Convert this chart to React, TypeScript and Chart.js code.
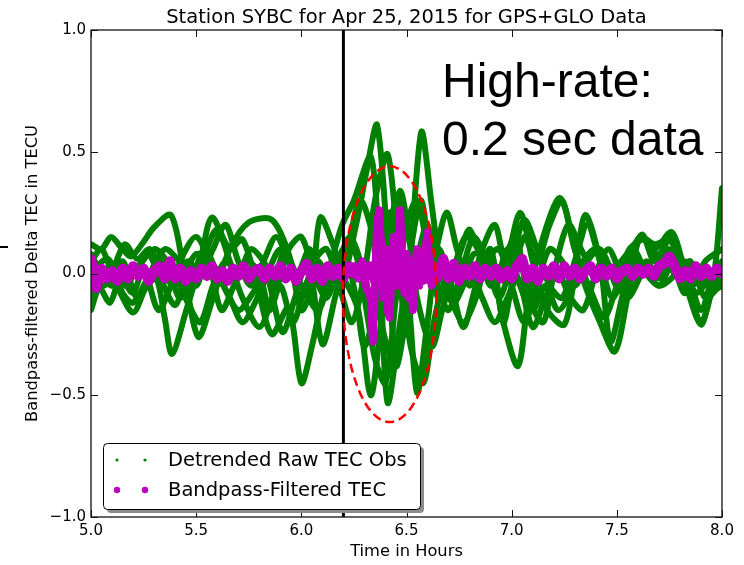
import React, { useEffect, useRef } from 'react';
import { Chart, registerables } from 'chart.js';
Chart.register(...registerables);

const X_MIN = 5.0;
const X_MAX = 8.0;
const Y_MIN = -1.0;
const Y_MAX = 1.0;
const xTicks = [5.0, 5.5, 6.0, 6.5, 7.0, 7.5, 8.0];
const yTicks = [-1.0, -0.5, 0.0, 0.5, 1.0];
const eventTime = 6.2;
const ellipseCenter = [6.42, -0.085];
const ellipseRadii = [0.222, 0.525];

const titleText = 'Station SYBC for Apr 25, 2015 for GPS+GLO Data';
const xLabel = 'Time in Hours';
const yLabel = 'Bandpass-filtered Delta TEC in TECU';
const noteLines = ['High-rate:', '0.2 sec data'];
const legendLabels = ['Detrended Raw TEC Obs', 'Bandpass-Filtered TEC'];

const GREEN = '#008000';
const MAGENTA = '#BF00BF';

const g1: number[][] = [[5.00,0.12],[5.05,0.10],[5.095,0.15],[5.15,0.10],[5.19,0.07],[5.25,0.13],[5.30,0.19],[5.38,0.24],[5.44,0.02],[5.51,-0.26],[5.58,-0.10],[5.66,0.10],[5.75,0.21],[5.86,0.22],[5.94,0.08],[6.00,-0.15],[6.05,-0.05],[6.09,0.23],[6.15,0.12],[6.20,0.00],[6.26,0.20],[6.31,0.42],[6.36,0.61],[6.41,0.12],[6.45,-0.38],[6.50,-0.15],[6.57,0.58],[6.62,0.28],[6.67,-0.02],[6.72,-0.12],[6.77,-0.05],[6.82,0.08],[6.90,0.05],[6.96,-0.20],[7.03,-0.38],[7.08,-0.10],[7.15,0.15],[7.23,0.31],[7.30,0.10],[7.35,-0.05],[7.42,-0.20],[7.49,-0.32],[7.55,-0.10],[7.61,0.15],[7.68,0.10],[7.76,0.17],[7.82,0.02],[7.90,-0.20],[7.96,-0.02],[8.00,0.35]];
const g2: number[][] = [[5.00,-0.10],[5.06,0.02],[5.12,-0.05],[5.20,-0.16],[5.26,-0.06],[5.31,-0.02],[5.35,-0.18],[5.385,-0.33],[5.45,-0.16],[5.52,0.05],[5.575,0.23],[5.66,0.10],[5.72,0.14],[5.79,-0.05],[5.86,-0.25],[5.94,-0.14],[6.00,-0.45],[6.05,-0.30],[6.10,-0.10],[6.19,0.19],[6.25,0.30],[6.33,0.48],[6.37,0.10],[6.41,-0.53],[6.47,-0.20],[6.52,0.10],[6.57,0.30],[6.62,0.05],[6.69,0.25],[6.74,0.10],[6.80,-0.05],[6.86,0.10],[6.92,0.20],[6.97,0.05],[7.04,0.25],[7.10,0.05],[7.17,-0.15],[7.25,-0.21],[7.30,0.00],[7.35,0.24],[7.42,0.05],[7.47,-0.28],[7.54,-0.05],[7.60,0.05],[7.70,-0.05],[7.77,0.05],[7.84,-0.02],[7.90,-0.15],[7.96,0.00],[8.00,0.05]];
const g3: number[][] = [[5.00,0.02],[5.06,-0.05],[5.13,0.03],[5.20,0.00],[5.27,0.08],[5.33,-0.02],[5.40,-0.13],[5.45,0.00],[5.50,0.08],[5.57,0.05],[5.63,-0.05],[5.70,-0.15],[5.77,-0.08],[5.83,0.00],[5.91,-0.24],[5.97,-0.10],[6.03,0.06],[6.10,-0.29],[6.16,-0.10],[6.22,0.10],[6.28,0.30],[6.34,0.15],[6.38,-0.20],[6.45,-0.38],[6.50,-0.05],[6.55,-0.49],[6.60,-0.20],[6.65,0.10],[6.70,0.00],[6.77,-0.22],[6.83,-0.05],[6.90,0.10],[6.96,-0.20],[7.00,-0.05],[7.06,0.15],[7.12,0.05],[7.18,0.20],[7.24,0.30],[7.30,0.10],[7.38,-0.08],[7.44,-0.18],[7.50,-0.05],[7.56,0.10],[7.64,0.14],[7.70,0.05],[7.75,0.10],[7.82,0.00],[7.88,-0.08],[7.94,-0.02],[8.00,0.00]];
const g4: number[][] = [[5.00,0.08],[5.05,0.00],[5.10,-0.05],[5.15,0.05],[5.22,-0.10],[5.28,0.00],[5.35,0.10],[5.42,0.05],[5.50,-0.05],[5.55,0.10],[5.60,0.18],[5.66,0.05],[5.72,-0.10],[5.80,-0.22],[5.86,-0.10],[5.92,0.10],[5.98,0.00],[6.04,0.10],[6.10,-0.05],[6.15,0.02],[6.20,-0.02],[6.27,-0.15],[6.33,-0.50],[6.38,-0.20],[6.43,0.10],[6.47,0.34],[6.52,0.10],[6.55,-0.10],[6.62,-0.30],[6.67,-0.15],[6.72,0.00],[6.78,0.15],[6.84,0.10],[6.90,-0.05],[6.96,0.05],[7.02,0.15],[7.08,-0.10],[7.15,-0.20],[7.20,0.00],[7.27,0.20],[7.33,0.10],[7.40,0.00],[7.45,0.05],[7.50,-0.05],[7.56,0.05],[7.62,0.16],[7.68,0.05],[7.76,0.15],[7.83,-0.05],[7.90,-0.21],[7.95,-0.08],[8.00,-0.05]];
const g5: number[][] = [[5.00,-0.15],[5.04,-0.06],[5.09,-0.12],[5.14,-0.02],[5.20,-0.08],[5.25,0.02],[5.32,-0.15],[5.38,-0.05],[5.44,0.08],[5.50,0.15],[5.56,0.05],[5.62,-0.15],[5.68,-0.05],[5.74,0.05],[5.80,0.00],[5.85,-0.15],[5.90,-0.05],[5.96,-0.20],[6.02,-0.05],[6.08,0.05],[6.14,-0.05],[6.20,0.10],[6.26,-0.10],[6.30,-0.30],[6.36,-0.10],[6.42,0.25],[6.47,0.05],[6.52,-0.30],[6.58,-0.45],[6.63,-0.20],[6.68,-0.05],[6.73,-0.12],[6.80,0.02],[6.86,-0.10],[6.92,-0.20],[6.98,-0.10],[7.03,-0.02],[7.10,-0.22],[7.16,-0.10],[7.22,0.00],[7.28,-0.10],[7.34,-0.15],[7.40,0.00],[7.46,0.10],[7.52,0.00],[7.58,-0.05],[7.64,0.05],[7.70,-0.02],[7.76,0.05],[7.82,-0.08],[7.88,-0.02],[7.95,-0.05],[8.00,-0.02]];
const g6: number[][] = [[5.00,0.00],[5.08,0.06],[5.15,-0.08],[5.20,-0.12],[5.27,-0.02],[5.33,0.05],[5.40,0.00],[5.46,-0.12],[5.52,-0.20],[5.58,-0.05],[5.64,0.05],[5.70,0.00],[5.76,0.10],[5.82,0.05],[5.88,-0.05],[5.94,0.10],[6.00,0.15],[6.06,0.00],[6.12,-0.10],[6.18,0.05],[6.23,0.15],[6.28,0.05],[6.34,-0.20],[6.40,0.05],[6.45,0.30],[6.50,0.20],[6.55,0.00],[6.60,0.15],[6.66,0.05],[6.71,-0.10],[6.77,-0.20],[6.83,-0.10],[6.88,0.05],[6.94,0.10],[7.00,-0.05],[7.06,-0.20],[7.12,-0.05],[7.18,0.10],[7.24,0.05],[7.30,-0.05],[7.36,0.05],[7.42,0.10],[7.48,0.00],[7.55,-0.10],[7.62,0.00],[7.70,0.08],[7.78,0.00],[7.85,0.05],[7.92,-0.10],[8.00,-0.04]];
const g7: number[][] = [[5.00,0.05],[5.05,0.10],[5.10,0.02],[5.16,0.12],[5.22,0.06],[5.28,0.10],[5.34,0.00],[5.40,-0.05],[5.46,0.05],[5.52,0.00],[5.58,0.10],[5.64,0.20],[5.70,0.05],[5.76,-0.05],[5.82,0.05],[5.88,0.15],[5.94,0.05],[6.00,-0.10],[6.06,0.05],[6.12,0.10],[6.18,-0.05],[6.24,-0.20],[6.30,0.00],[6.35,0.30],[6.41,0.49],[6.46,0.10],[6.50,-0.25],[6.55,0.05],[6.60,0.20],[6.65,-0.05],[6.70,-0.15],[6.76,0.00],[6.82,0.15],[6.88,0.05],[6.94,-0.10],[7.00,0.05],[7.06,0.22],[7.12,0.10],[7.18,-0.05],[7.24,-0.10],[7.30,0.05],[7.36,0.20],[7.42,0.05],[7.48,-0.10],[7.55,0.05],[7.61,0.15],[7.68,0.12],[7.75,0.14],[7.80,0.05],[7.86,-0.05],[7.92,0.05],[8.00,0.10]];
const g8: number[][] = [[5.00,-0.08],[5.05,-0.02],[5.10,0.04],[5.16,-0.05],[5.22,0.02],[5.30,0.10],[5.36,0.05],[5.42,-0.10],[5.48,-0.02],[5.54,0.10],[5.60,0.00],[5.66,-0.10],[5.72,-0.20],[5.78,-0.12],[5.84,0.00],[5.90,0.10],[5.96,0.02],[6.02,-0.08],[6.08,-0.15],[6.14,-0.02],[6.20,0.05],[6.25,0.10],[6.30,-0.10],[6.35,-0.35],[6.40,-0.45],[6.45,-0.10],[6.50,0.20],[6.55,0.30],[6.60,0.10],[6.65,-0.10],[6.70,-0.05],[6.76,0.10],[6.80,0.18],[6.86,0.05],[6.92,-0.05],[6.98,0.10],[7.04,-0.05],[7.10,-0.15],[7.16,-0.05],[7.22,-0.15],[7.28,-0.08],[7.34,0.05],[7.40,0.10],[7.46,0.00],[7.52,0.05],[7.58,0.10],[7.64,0.00],[7.70,-0.05],[7.76,-0.02],[7.82,0.05],[7.88,0.00],[7.94,-0.05],[8.00,0.03]];
const greenTracks = [g1, g2, g3, g4, g5, g6, g7, g8];

// filtered series, sampled every 0.025 h from 5.0 to 8.0
const magentaStep = 0.025;
const magentaBase = [
  0.06,-0.06,0.02,-0.02,0.01,-0.03,0.02,-0.02,0.03,-0.01,
  0.02,-0.03,0.01,0.03,-0.02,0.05,-0.02,0.02,-0.03,0.01,
  -0.02,0.02,-0.01,0.03,-0.02,0.01,-0.03,0.02,-0.01,0.03,
  -0.02,0.01,0.02,-0.02,0.02,-0.01,0.03,-0.02,0.02,-0.03,
  0.01,0.04,-0.02,0.02,-0.03,0.03,-0.01,0.02,-0.02,0.03,
  0.00,0.02,-0.02,0.03,-0.03,0.02,-0.02,0.02,-0.01,0.03,
  -0.02,0.02,-0.01,0.02,-0.02,0.03,-0.01,0.06,-0.02,0.04,
  -0.03,0.02,-0.01,0.03,-0.02,0.02,-0.01,0.02,-0.02,0.01,
  -0.02,0.03,0.06,-0.02,0.02,-0.03,0.02,-0.01,0.03,-0.02,
  0.03,-0.01,0.02,-0.02,0.01,0.03,-0.02,0.02,-0.01,0.02,
  -0.02,0.01,0.02,-0.01,0.02,0.00,0.02,-0.01,0.03,0.04,
  0.07,0.03,-0.02,0.01,-0.02,0.03,-0.01,0.02,-0.01,0.02,
  0.00
];
const magentaBurst: number[][] = [[6.22,0.00],[6.25,0.03],[6.27,-0.02],[6.29,0.05],[6.31,-0.06],[6.33,-0.10],[6.34,-0.28],[6.35,-0.05],[6.36,0.20],[6.37,0.26],[6.38,0.10],[6.39,-0.10],[6.40,0.10],[6.41,-0.15],[6.42,-0.18],[6.43,0.05],[6.44,0.15],[6.45,-0.05],[6.46,0.12],[6.47,0.26],[6.48,0.05],[6.49,-0.08],[6.50,0.08],[6.51,-0.10],[6.52,0.05],[6.53,-0.15],[6.54,0.02],[6.55,0.10],[6.56,-0.05],[6.57,0.06],[6.58,-0.03],[6.59,0.10],[6.60,0.17],[6.61,0.00],[6.62,-0.05],[6.63,0.03],[6.65,-0.02],[6.67,0.02]];

const fmt = (v: number) => (v < 0 ? '\u2212' : '') + Math.abs(v).toFixed(1);

export default function App() {
  const ref = useRef<HTMLCanvasElement>(null);
  useEffect(() => {
    document.body.style.margin = '0';
    const canvas = ref.current!;
    const toXY = (arr: number[][]) => arr.map(([x, y]) => ({ x, y }));
    const magentaTimes = magentaBase.map((_, i) => X_MIN + i * magentaStep);
    const datasets: any[] = [
      { data: toXY(magentaBurst), borderColor: MAGENTA, borderWidth: 8, tension: 0 },
      { data: magentaBase.map((y, i) => ({ x: magentaTimes[i], y })), borderColor: MAGENTA, borderWidth: 10, tension: 0 },
      ...greenTracks.map((t) => ({ data: toXY(t), borderColor: GREEN, borderWidth: 6, tension: 0.3 })),
    ];
    datasets.forEach((d) => {
      d.pointRadius = 0;
      d.borderCapStyle = 'round';
      d.borderJoinStyle = 'round';
      d.fill = false;
    });

    const overlay = {
      id: 'overlay',
      afterDatasetsDraw(chart: any) {
        const { ctx, chartArea: a, scales } = chart;
        const x = scales.x, y = scales.y;
        ctx.save();
        ctx.beginPath();
        ctx.rect(a.left, a.top, a.right - a.left, a.bottom - a.top);
        ctx.clip();
        const ex = x.getPixelForValue(eventTime);
        ctx.strokeStyle = '#000';
        ctx.lineWidth = 3;
        ctx.beginPath();
        ctx.moveTo(ex, y.getPixelForValue(Y_MAX));
        ctx.lineTo(ex, y.getPixelForValue(Y_MIN));
        ctx.stroke();
        const cx = x.getPixelForValue(ellipseCenter[0]);
        const cy = y.getPixelForValue(ellipseCenter[1]);
        const rx = x.getPixelForValue(ellipseCenter[0] + ellipseRadii[0]) - cx;
        const ry = cy - y.getPixelForValue(ellipseCenter[1] + ellipseRadii[1]);
        ctx.strokeStyle = '#FF0000';
        ctx.lineWidth = 2.5;
        ctx.setLineDash([9, 5]);
        ctx.beginPath();
        ctx.ellipse(cx, cy, rx, ry, 0, 0, Math.PI * 2);
        ctx.stroke();
        ctx.restore();
      },
      afterDraw(chart: any) {
        const { ctx, chartArea: a, scales } = chart;
        const x = scales.x, y = scales.y;
        ctx.save();
        // frame
        ctx.strokeStyle = '#111';
        ctx.lineWidth = 1.3;
        ctx.strokeRect(a.left, a.top, a.right - a.left, a.bottom - a.top);
        ctx.lineWidth = 1;
        const tl = 7;
        ctx.beginPath();
        xTicks.forEach((t) => {
          const px = Math.round(x.getPixelForValue(t)) + 0.5;
          ctx.moveTo(px, a.bottom); ctx.lineTo(px, a.bottom - tl);
          ctx.moveTo(px, a.top); ctx.lineTo(px, a.top + tl);
        });
        yTicks.forEach((t) => {
          const py = Math.round(y.getPixelForValue(t)) + 0.5;
          ctx.moveTo(a.left, py); ctx.lineTo(a.left + tl, py);
          ctx.moveTo(a.right, py); ctx.lineTo(a.right - tl, py);
        });
        ctx.stroke();

        // tick labels
        ctx.fillStyle = '#000';
        ctx.font = '15px "DejaVu Sans"';
        ctx.textBaseline = 'middle';
        ctx.textAlign = 'center';
        xTicks.forEach((t) => ctx.fillText(fmt(t), x.getPixelForValue(t), a.bottom + 14));
        ctx.textAlign = 'right';
        yTicks.forEach((t) => ctx.fillText(fmt(t), a.left - 5, y.getPixelForValue(t)));

        // title and axis labels
        ctx.textAlign = 'center';
        ctx.textBaseline = 'alphabetic';
        ctx.font = '19.5px "DejaVu Sans"';
        ctx.fillText(titleText, (a.left + a.right) / 2, 23);
        ctx.font = '16.3px "DejaVu Sans"';
        ctx.textBaseline = 'middle';
        ctx.fillText(xLabel, (a.left + a.right) / 2, 552);
        ctx.save();
        ctx.translate(33, (a.top + a.bottom) / 2);
        ctx.rotate(-Math.PI / 2);
        ctx.fillText(yLabel, 0, 0);
        ctx.restore();

        // annotation text
        ctx.textAlign = 'left';
        ctx.textBaseline = 'alphabetic';
        ctx.font = '48px "Liberation Sans"';
        ctx.fillText(noteLines[0], 442, 97);
        ctx.fillText(noteLines[1], 442, 155);

        // legend
        const lx = a.left + 12, ly = a.bottom - 74, lw = 317, lh = 66;
        ctx.fillStyle = '#8c8c8c';
        ctx.beginPath();
        ctx.roundRect(lx + 4, ly + 4, lw, lh, 4);
        ctx.fill();
        ctx.fillStyle = '#fff';
        ctx.strokeStyle = '#000';
        ctx.lineWidth = 1;
        ctx.beginPath();
        ctx.roundRect(lx + 0.5, ly + 0.5, lw, lh, 4);
        ctx.fill();
        ctx.stroke();
        const rows = [
          { c: GREEN, r: 1.6, yy: ly + 17 },
          { c: MAGENTA, r: 3.2, yy: ly + 47 },
        ];
        rows.forEach((row, i) => {
          ctx.fillStyle = row.c;
          [lx + 14, lx + 42].forEach((dx) => {
            ctx.beginPath();
            ctx.arc(dx, row.yy, row.r, 0, Math.PI * 2);
            ctx.fill();
          });
          ctx.fillStyle = '#000';
          ctx.font = '19.5px "DejaVu Sans"';
          ctx.textBaseline = 'middle';
          ctx.fillText(legendLabels[i], lx + 65, row.yy + 1);
        });
        ctx.restore();
      },
    };

    const chart = new Chart(canvas, {
      type: 'line',
      data: { datasets },
      options: {
        animation: false,
        responsive: false,
        maintainAspectRatio: false,
        layout: { padding: { top: 30, right: 22, left: 0, bottom: 0 } },
        plugins: { legend: { display: false }, title: { display: false }, tooltip: { enabled: false } },
        scales: {
          x: {
            type: 'linear', min: X_MIN, max: X_MAX,
            grid: { display: false }, border: { display: false },
            ticks: { stepSize: 0.5, display: false },
            afterFit: (s: any) => { s.height = 48; },
          },
          y: {
            type: 'linear', min: Y_MIN, max: Y_MAX,
            grid: { display: false }, border: { display: false },
            ticks: { stepSize: 0.5, display: false },
            afterFit: (s: any) => { s.width = 91; },
          },
        },
      } as any,
      plugins: [overlay],
    });
    return () => chart.destroy();
  }, []);
  return (
    <div style={{ position: 'relative', width: 744, height: 565 }}>
      <canvas ref={ref} width={744} height={565} style={{ display: 'block' }} />
      <div style={{ position: 'absolute', left: 0, top: 246, width: 8, height: 2, background: '#000' }} />
    </div>
  );
}
